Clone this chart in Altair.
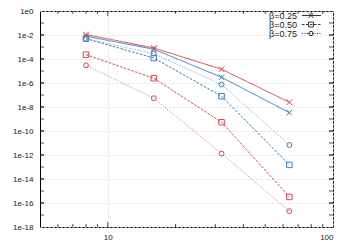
import altair as alt
import pandas as pd

ns = [8, 16, 32, 64]
methods = ["red", "blue"]
betas = ["β=0.25", "β=0.50", "β=0.75"]

red_025 = [1.1e-2, 8.3e-4, 1.4e-5, 2.5e-8]
red_050 = [2.3e-4, 2.5e-6, 5.4e-10, 3.2e-16]
red_075 = [3.0e-5, 5.4e-8, 1.3e-12, 2.1e-17]
blue_025 = [8.0e-3, 6.5e-4, 3.0e-6, 3.4e-9]
blue_050 = [5.0e-3, 1.2e-4, 8.0e-8, 1.5e-13]
blue_075 = [4.8e-3, 2.8e-4, 7.4e-7, 6.8e-12]

y_label_vals = [10.0 ** -k for k in range(0, 19, 2)]
y_tick_vals = [10.0 ** -k for k in range(1, 18)]
x_major = [10]
x_minor = [6, 7, 8, 9, 20, 30, 40, 50, 60, 70, 80, 90]

W, H = 293, 216
RED = "#e3424f"
BLUE = "#3b7ec2"
FONT = "Liberation Sans"
XPATH = "M-1,-1L1,1M-1,1L1,-1"

dashes = {"β=0.25": [1, 0], "β=0.50": [2.5, 1.5], "β=0.75": [1, 1.5]}
shapes = {"β=0.25": XPATH, "β=0.50": "square", "β=0.75": "circle"}
sizes = {"β=0.25": 30, "β=0.50": 30, "β=0.75": 24}

series = [
    ("blue", "β=0.25", blue_025), ("blue", "β=0.50", blue_050), ("blue", "β=0.75", blue_075),
    ("red", "β=0.25", red_025), ("red", "β=0.50", red_050), ("red", "β=0.75", red_075),
]

xs = alt.Scale(type="log", domain=[5, 100], nice=False)
ys = alt.Scale(type="log", domain=[1e-18, 1], nice=False)

layers = []
for i, (m, b, vals) in enumerate(series):
    df = pd.DataFrame({"n": ns, "err": vals})
    col = RED if m == "red" else BLUE
    if i == 0:
        xenc = alt.X("n:Q", scale=xs, axis=alt.Axis(values=x_major + [100], ticks=False, domain=False,
                     grid=True, gridDash=[2, 2], gridColor="#d8d8d8", gridWidth=0.8,
                     labelFont=FONT, labelFontSize=8, labelColor="#222", labelPadding=6,
                     labelExpr="format(datum.value, 'd')", title=None))
        yenc = alt.Y("err:Q", scale=ys, axis=alt.Axis(values=y_label_vals, ticks=False, domain=False,
                     grid=True, gridDash=[2, 2], gridColor="#d8d8d8", gridWidth=0.8,
                     labelFont=FONT, labelFontSize=8, labelColor="#222", labelPadding=7,
                     labelExpr="'1e' + round(log(datum.value)/LN10)", title=None))
    else:
        xenc = alt.X("n:Q", scale=xs)
        yenc = alt.Y("err:Q", scale=ys)
    op = 0.75 if b == "β=0.75" else 1
    line = alt.Chart(df).mark_line(color=col, strokeWidth=1, strokeDash=dashes[b], opacity=op).encode(x=xenc, y=yenc)
    pts = alt.Chart(df).mark_point(shape=shapes[b], size=sizes[b], color=col,
                                   filled=False, strokeWidth=1, opacity=1).encode(
        x=alt.X("n:Q", scale=xs), y=alt.Y("err:Q", scale=ys))
    layers += [line, pts]

# inward ticks
ydf = pd.DataFrame({"v": y_tick_vals + y_label_vals[1:-1]})
for xp in [2, W - 2]:
    layers.append(alt.Chart(ydf).mark_tick(orient="horizontal", size=4, thickness=1, color="black").encode(
        y=alt.Y("v:Q", scale=ys), x=alt.value(xp)))
xmaj = pd.DataFrame({"v": x_major})
xmin = pd.DataFrame({"v": x_minor})
for yp, yq in [(H - 2.5, H - 1.5), (2.5, 1.5)]:
    layers.append(alt.Chart(xmaj).mark_tick(orient="vertical", size=5, thickness=1, color="black").encode(
        x=alt.X("v:Q", scale=xs), y=alt.value(yp)))
    layers.append(alt.Chart(xmin).mark_tick(orient="vertical", size=3, thickness=1, color="black").encode(
        x=alt.X("v:Q", scale=xs), y=alt.value(yq)))

# legend
leg_y = [4.5, 13.5, 22.5]
for b, yy in zip(betas, leg_y):
    d = pd.DataFrame({"label": [b]})
    layers.append(alt.Chart(d).mark_text(align="right", baseline="middle", font=FONT, fontSize=9,
                                         color="#222").encode(text="label:N", x=alt.value(257), y=alt.value(yy)))
    layers.append(alt.Chart(d).mark_rule(color="#333", strokeWidth=1, strokeDash=dashes[b]).encode(
        x=alt.value(262), x2=alt.value(281), y=alt.value(yy)))
    layers.append(alt.Chart(d).mark_point(shape=shapes[b], size=sizes[b] * 0.8,
                                          color="#333", filled=False, strokeWidth=1, opacity=1).encode(
        x=alt.value(271), y=alt.value(yy)))

chart = alt.layer(*layers).properties(
    width=W, height=H,
    autosize=alt.AutoSizeParams(type="none"),
    padding={"left": 32, "top": 3, "right": 9, "bottom": 14},
).configure_view(stroke="black", strokeWidth=1)

chart.save("out.html", embed_options={"renderer": "svg", "actions": False})
